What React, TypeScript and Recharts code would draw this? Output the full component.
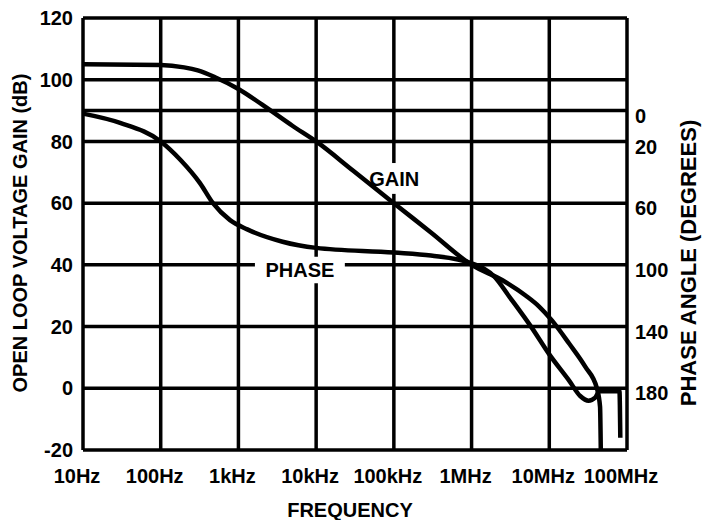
import {
  LineChart,
  Line,
  XAxis,
  YAxis,
  CartesianGrid,
  ReferenceLine,
  ReferenceArea,
  Label,
} from "recharts";

// frequency decades shown on the x axis
const freqTicks = [10, 100, 1e3, 1e4, 1e5, 1e6, 1e7, 1e8];
const freqLabels = ["10Hz", "100Hz", "1kHz", "10kHz", "100kHz", "1MHz", "10MHz", "100MHz"];

const gainTicks = [-20, 0, 20, 40, 60, 80, 100, 120];
const phaseTicks = [0, 20, 60, 100, 140, 180];

// open loop gain
const gainFreq = [10, 100, 200, 300, 500, 1e3, 2e3, 5e3, 1e4, 3e4, 1e5, 3e5, 1e6, 2.5e6, 5e6, 7.4e6, 1.08e7, 1.8e7, 2.9e7, 4.1e7, 4.5e7, 4.6e7];
const gainDb = [105, 104.8, 104, 103, 100.8, 97, 92, 85, 80, 70.5, 60, 50.5, 40, 35, 30, 26.5, 22, 14.5, 7, 0, -6, -20];

// phase angle in degrees
const phaseFreq = [10, 30, 100, 180, 320, 470, 780, 1300, 3700, 1e4, 1e5, 3e5, 1e6, 2e6, 3e6, 6e6, 1e7, 1.8e7, 2.5e7, 3.2e7, 3.9e7, 4.4e7, 8e7, 8.2e7];
const phaseDeg = [2, 8, 20, 32, 47, 60, 71, 77, 85, 89, 92, 94, 99, 108, 120, 141, 158, 175, 185, 188, 186, 182, 182, 212];

type Row = { f: number; gain?: number; phase?: number };

const rows: Row[] = [
  ...gainFreq.map((f, i) => ({ f, gain: gainDb[i] })),
  ...phaseFreq.map((f, i) => ({ f, phase: phaseDeg[i] })),
].sort((a, b) => a.f - b.f);

const font = '"Liberation Sans", Arial, Helvetica, sans-serif';
const textStyle = { fill: "#000", fontSize: 20, fontWeight: 700, fontFamily: font };

const fmtFreq = (v: number) => {
  const i = freqTicks.findIndex((t) => Math.abs(t - v) / t < 1e-6);
  return i >= 0 ? freqLabels[i] : "";
};

const leftTitle = () => (
  <text x={20} y={233} transform="rotate(-90 20 233)" textAnchor="middle" dominantBaseline="central" style={textStyle}>
    OPEN LOOP VOLTAGE GAIN (dB)
  </text>
);

const rightTitle = () => (
  <text x={688} y={263} transform="rotate(-90 688 263)" textAnchor="middle" dominantBaseline="central" style={{ ...textStyle, fontSize: 22 }}>
    PHASE ANGLE (DEGREES)
  </text>
);

const bottomTitle = () => (
  <text x={350} y={517} textAnchor="middle" style={textStyle}>
    FREQUENCY
  </text>
);

export default function App() {
  return (
    <div style={{ position: "absolute", left: 0, top: 0, width: 704, height: 520, background: "#fff" }}>
      <LineChart width={704} height={520} data={rows} margin={{ top: 18, right: 0, bottom: 0, left: 0 }}>
        <CartesianGrid stroke="#000" strokeWidth={3.5} />
        <XAxis
          dataKey="f"
          type="number"
          scale="log"
          domain={[10, 1e8]}
          ticks={freqTicks}
          tickFormatter={fmtFreq}
          axisLine={false}
          tickLine={false}
          tickMargin={13}
          height={70}
          interval={0}
          tick={{ ...textStyle, dx: -6 }}
        >
          <Label content={bottomTitle} />
        </XAxis>
        <YAxis
          domain={[-20, 120]}
          ticks={gainTicks}
          axisLine={false}
          tickLine={false}
          tickMargin={4}
          width={83}
          interval={0}
          tick={textStyle}
        >
          <Label content={leftTitle} />
        </YAxis>
        <YAxis
          yAxisId="phase"
          orientation="right"
          reversed
          domain={[-60, 220]}
          ticks={phaseTicks}
          axisLine={false}
          tickLine={false}
          tickMargin={2}
          width={77}
          interval={0}
          tick={{ ...textStyle, dy: 5 }}
        >
          <Label content={rightTitle} />
        </YAxis>
        <ReferenceLine yAxisId="phase" y={0} stroke="#000" strokeWidth={3.5} />
        <ReferenceArea
          x1={1630}
          x2={23400}
          y1={34}
          y2={42.6}
          fill="#fff"
          fillOpacity={1}
          stroke="none"
          label={{ value: "PHASE", position: "center", ...textStyle }}
        />
        <ReferenceArea
          x1={85000}
          x2={120000}
          y1={63}
          y2={73}
          fill="#fff"
          fillOpacity={1}
          stroke="none"
          label={{ value: "GAIN", position: "center", ...textStyle }}
        />
        <Line
          type="monotoneX"
          dataKey="gain"
          stroke="#000"
          strokeWidth={4.5}
          dot={false}
          connectNulls
          isAnimationActive={false}
        />
        <Line
          yAxisId="phase"
          type="monotoneX"
          dataKey="phase"
          stroke="#000"
          strokeWidth={4.5}
          dot={false}
          connectNulls
          isAnimationActive={false}
        />
      </LineChart>
    </div>
  );
}
